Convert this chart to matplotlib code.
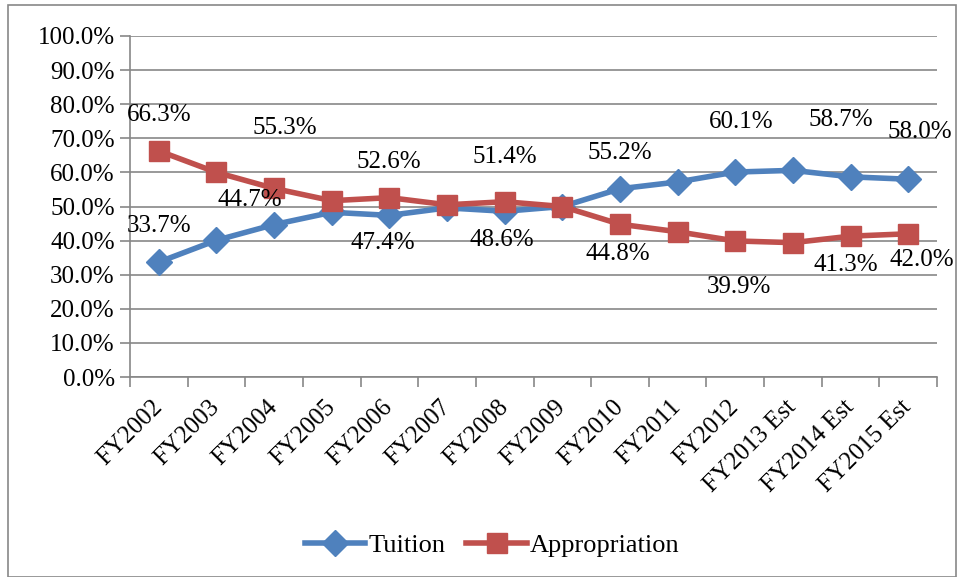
#!/usr/bin/env python3
# -*- coding: utf-8 -*-

import numpy as np
import matplotlib
matplotlib.use('Agg')
import matplotlib.pyplot as plt
from matplotlib.patches import Rectangle
from matplotlib.ticker import FixedLocator

years = ['FY2002', 'FY2003', 'FY2004', 'FY2005', 'FY2006', 'FY2007',
         'FY2008', 'FY2009', 'FY2010', 'FY2011', 'FY2012',
         'FY2013 Est', 'FY2014 Est', 'FY2015 Est']
tuition = [33.7, 40.1, 44.7, 48.3, 47.4, 49.6, 48.6, 50.0, 55.2, 57.2,
           60.1, 60.6, 58.7, 58.0]
appropriation = [66.3, 60.0, 55.3, 51.7, 52.6, 50.5, 51.4, 50.0, 44.8, 42.6,
                 39.9, 39.4, 41.3, 42.0]

# which points get a data label, and where (pixel offsets, up is +)
tuition_labels = {0: (0, 36), 2: (-24, 25), 4: (-7, -28), 6: (-3, -29),
                  8: (0, 36), 10: (6, 50), 12: (-10, 57), 13: (12, 47)}
approp_labels = {0: (0, 36), 2: (11, 60), 4: (-1, 36), 6: (0, 45),
                 8: (-2, -30), 10: (4, -46), 12: (-5, -29), 13: (14, -26)}

BLUE = '#4F81BD'
RED = '#C0504D'
GRID = '#878787'

plt.rcParams['font.family'] = 'Liberation Serif'
plt.rcParams['font.size'] = 18

fig = plt.figure(figsize=(9.57, 5.77), dpi=100)
fig.patches.append(Rectangle((8 / 957, 0), 1 - 8 / 957 - 0.001, 1 - 5 / 577,
                             transform=fig.transFigure, fill=False,
                             edgecolor='#888888', linewidth=1.2))
ax = fig.add_axes([130 / 957, 1 - 377 / 577, (937 - 130) / 957,
                   (377 - 36) / 577])

x = np.arange(len(years))
ax.plot(x, tuition, color=BLUE, linewidth=4, marker='D', markersize=13,
        label='Tuition', zorder=3)
ax.plot(x, appropriation, color=RED, linewidth=4, marker='s',
        markersize=14, label='Appropriation', zorder=3)

for i, (dx, dy) in tuition_labels.items():
    ax.annotate('%.1f%%' % tuition[i], (x[i], tuition[i]),
                xytext=(dx, dy), textcoords='offset pixels',
                ha='center', va='center', fontsize=18)
for i, (dx, dy) in approp_labels.items():
    ax.annotate('%.1f%%' % appropriation[i], (x[i], appropriation[i]),
                xytext=(dx, dy), textcoords='offset pixels',
                ha='center', va='center', fontsize=18)

ax.set_xlim(-0.5, len(years) - 0.5)
ax.set_ylim(0, 100)
ax.set_yticks(np.arange(0, 101, 10))
ax.set_yticklabels(['%.1f%%' % v for v in np.arange(0, 101, 10)])
ax.yaxis.grid(True, color=GRID, linewidth=1.2)
ax.set_axisbelow(True)

ax.set_xticks(x)
ax.set_xticklabels(years, rotation=45, ha='right', va='center',
                   rotation_mode='anchor')
ax.xaxis.set_minor_locator(FixedLocator(np.arange(-0.5, len(years), 1)))
ax.tick_params(axis='x', which='major', length=0, pad=19)
ax.tick_params(axis='x', which='minor', length=7, color=GRID, width=1.2)
ax.tick_params(axis='y', length=7, color=GRID, width=1.2, pad=4)

for s in ['top', 'right']:
    ax.spines[s].set_visible(False)
for s in ['left', 'bottom']:
    ax.spines[s].set_color(GRID)
    ax.spines[s].set_linewidth(1.2)

fig.legend(loc='center', bbox_to_anchor=(492 / 957, 1 - 545 / 577), ncol=2,
           frameon=False, fontsize=19, handlelength=2.3, columnspacing=0.8,
           handletextpad=0.1)

fig.savefig('out.png', dpi=100)
